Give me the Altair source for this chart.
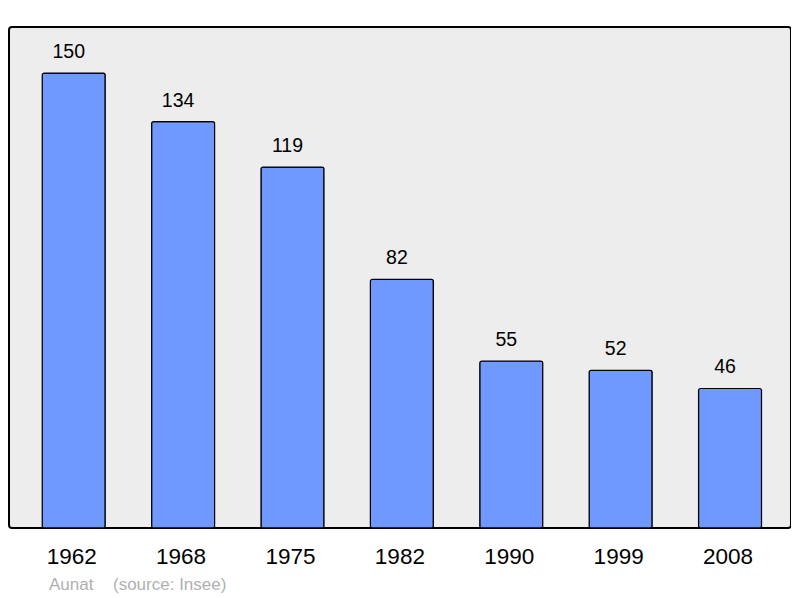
import altair as alt
import pandas as pd

years = ["1962", "1968", "1975", "1982", "1990", "1999", "2008"]
population = [150, 134, 119, 82, 55, 52, 46]
commune = "Aunat"
source = "(source: Insee)"

df = pd.DataFrame({"year": years, "pop": population})

x = alt.X("year:N", sort=years, title=None,
          scale=alt.Scale(paddingInner=0.424, paddingOuter=0.2865, align=0.53),
          axis=alt.Axis(labelAngle=0, labelFontSize=22.5, labelColor="#000000",
                        labelFont="Liberation Sans", ticks=False, domain=False,
                        labelPadding=17.5, labelOffset=-2))
y = alt.Y("pop:Q", title=None, scale=alt.Scale(domain=[0, 165.2], nice=False),
          axis=None)

bars = alt.Chart(df).mark_bar(color="#7099ff", stroke="#000000", strokeWidth=1.2,
                              cornerRadius=2).encode(x=x, y=y)
labels = alt.Chart(df).mark_text(dy=-15, dx=-5, baseline="alphabetic", fontSize=19.5,
                                 font="Liberation Sans",
                                 color="#000000").encode(x=x, y=y, text="pop:Q")

foot = pd.DataFrame({"t": [commune, source], "px": [40, 104]})
footer = alt.Chart(foot).mark_text(align="left", baseline="alphabetic", fontSize=17,
                                   font="Liberation Sans", color="#b0b0b0").encode(
    x=alt.X("px:Q", scale=None), y=alt.value(563), text="t:N")

chart = alt.layer(bars, labels, footer).properties(
    width=782, height=501,
    padding={"left": 1, "top": 19, "right": 0, "bottom": 0},
).configure_view(
    fill="#ededed", stroke="#000000", strokeWidth=2, cornerRadius=3
)

chart.save("out.html", embed_options={"renderer": "svg", "actions": False})
